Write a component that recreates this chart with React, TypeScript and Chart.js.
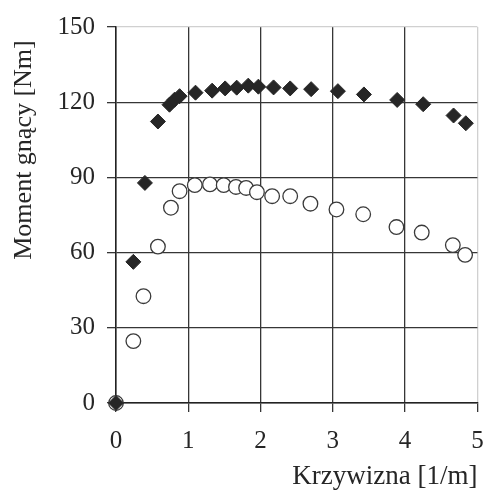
import React, { useEffect, useRef } from "react";
import { Chart, registerables } from "chart.js";

Chart.register(...registerables);

const xTitle = "Krzywizna [1/m]";
const yTitle = "Moment gnący [Nm]";

const diamondX = [0, 0.24, 0.40, 0.58, 0.74, 0.81, 0.88, 1.10, 1.33, 1.51, 1.67, 1.83, 1.97, 2.18, 2.41, 2.70, 3.07, 3.43, 3.89, 4.25, 4.67, 4.84];
const diamondY = [0, 56.3, 87.8, 112.3, 119, 121, 122.4, 123.8, 124.6, 125.5, 125.8, 126.6, 126.2, 125.9, 125.5, 125.2, 124.4, 123.1, 120.9, 119.2, 114.7, 111.6];

const circleX = [0, 0.24, 0.38, 0.58, 0.76, 0.88, 1.09, 1.30, 1.49, 1.66, 1.80, 1.95, 2.16, 2.41, 2.69, 3.05, 3.42, 3.88, 4.23, 4.66, 4.83];
const circleY = [0, 24.7, 42.6, 62.4, 77.9, 84.5, 86.9, 87.2, 86.9, 86.2, 85.8, 84.1, 82.5, 82.5, 79.5, 77.2, 75.3, 70.2, 68.0, 63.0, 59.1];

const xMin = 0, xMax = 5, xStep = 1;
const yMin = 0, yMax = 150, yStep = 30;

const FONT = '"Liberation Serif"';
const TEXT = "#262626";
const GRID = "#363636";
const FAINT = "#d0d0d0";

export default function App() {
  const ref = useRef<HTMLCanvasElement | null>(null);

  useEffect(() => {
    let chart: any = null;
    let cancelled = false;

    const build = () => {
      if (cancelled || !ref.current) return;
      const yTitlePlugin = {
        id: "yTitlePlugin",
        afterDraw(c: any) {
          const { ctx, chartArea } = c;
          ctx.save();
          ctx.translate(chartArea.left - 92, chartArea.top + 123);
          ctx.rotate(-Math.PI / 2);
          ctx.textAlign = "center";
          ctx.textBaseline = "middle";
          ctx.font = `26px ${FONT}`;
          ctx.fillStyle = TEXT;
          ctx.fillText(yTitle, 0, 0);
          ctx.restore();
        },
      };

      chart = new Chart(ref.current, {
        type: "scatter",
        data: {
          datasets: [
            {
              label: "diamonds",
              data: diamondX.map((x, i) => ({ x, y: diamondY[i] })),
              pointStyle: "rectRot",
              pointRadius: 7.5,
              pointBackgroundColor: "#262626",
              pointBorderColor: "#262626",
              pointBorderWidth: 1,
              clip: false,
            },
            {
              label: "circles",
              data: circleX.map((x, i) => ({ x, y: circleY[i] })),
              pointStyle: "circle",
              pointRadius: 7.3,
              pointBackgroundColor: "#ffffff",
              pointBorderColor: "#3a3a3a",
              pointBorderWidth: 1.3,
              clip: false,
            },
          ],
        },
        options: {
          responsive: false,
          animation: false,
          layout: { padding: { left: 0, top: 25, right: 6, bottom: 0 } },
          plugins: {
            legend: { display: false },
            tooltip: { enabled: false },
          },
          scales: {
            x: {
              type: "linear",
              min: xMin,
              max: xMax,
              afterFit: (s: any) => {
                s.height = 90;
                s.paddingLeft = 0;
                s.paddingRight = 0;
              },
              ticks: {
                stepSize: xStep,
                font: { family: FONT, size: 25 },
                color: TEXT,
                padding: 14,
                maxRotation: 0,
              },
              grid: {
                color: (c: any) => (c.tick && c.tick.value === xMax ? FAINT : GRID),
                tickColor: GRID,
                tickLength: 9,
                lineWidth: 1.3,
              },
              border: { display: true, color: "#222", width: 1.5 },
              title: {
                display: true,
                text: xTitle,
                align: "end",
                color: TEXT,
                font: { family: FONT, size: 27 },
                padding: { top: 0, bottom: 0 },
              },
            },
            y: {
              type: "linear",
              min: yMin,
              max: yMax,
              afterFit: (s: any) => {
                s.width = 116;
              },
              ticks: {
                stepSize: yStep,
                font: { family: FONT, size: 25 },
                color: TEXT,
                padding: 12,
              },
              grid: {
                color: (c: any) => (c.tick && c.tick.value === yMax ? FAINT : GRID),
                tickColor: GRID,
                tickLength: 9,
                lineWidth: 1.3,
              },
              border: { display: true, color: "#222", width: 1.5 },
            },
          },
        },
        plugins: [yTitlePlugin],
      });
    };

    const fonts: any = (document as any).fonts;
    if (fonts && fonts.load) {
      Promise.all([
        fonts.load(`25px ${FONT}`, "0123456789"),
        fonts.load(`27px ${FONT}`, "Krzywizna [1/m] Moment gnący [Nm]"),
      ])
        .catch(() => null)
        .then(build);
    } else {
      build();
    }

    return () => {
      cancelled = true;
      if (chart) chart.destroy();
    };
  }, []);

  return (
    <div style={{ position: "absolute", left: 0, top: 0, width: 486, height: 493, background: "#fff" }}>
      <canvas ref={ref} width={486} height={493} style={{ display: "block", width: 486, height: 493 }} />
    </div>
  );
}
